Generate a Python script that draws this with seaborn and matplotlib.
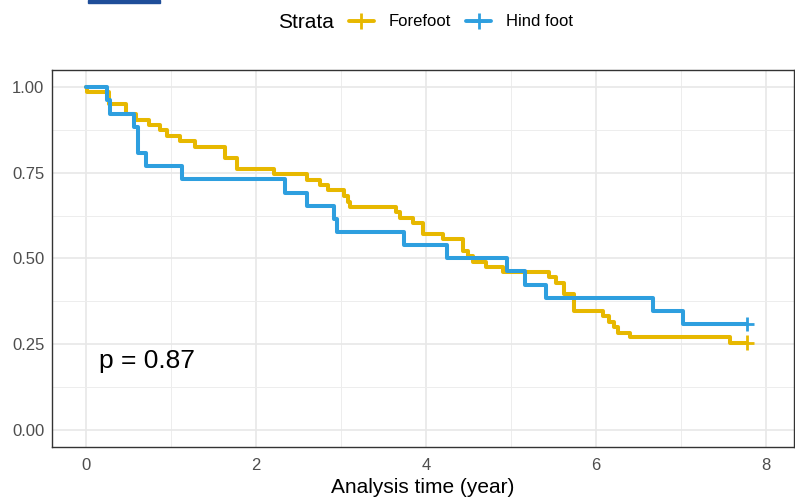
import pandas as pd
import matplotlib.pyplot as plt
import seaborn as sns
from matplotlib.lines import Line2D
from matplotlib.patches import Rectangle

# Kaplan-Meier steps (time in years, survival after the drop)
ff_time = [0.0, 0.02, 0.28, 0.48, 0.59, 0.75, 0.87, 0.96, 1.11, 1.28, 1.64, 1.78,
           2.21, 2.60, 2.76, 2.85, 3.04, 3.08, 3.11, 3.65, 3.70, 3.85, 3.97, 4.20,
           4.44, 4.50, 4.55, 4.71, 4.91, 5.45, 5.53, 5.62, 5.74, 6.09, 6.16, 6.21,
           6.26, 6.40, 7.58, 7.78]
ff_surv = [1.0, 0.985, 0.951, 0.922, 0.906, 0.890, 0.875, 0.859, 0.842, 0.826, 0.794, 0.762,
           0.748, 0.730, 0.716, 0.699, 0.682, 0.665, 0.650, 0.635, 0.619, 0.604, 0.572, 0.556,
           0.523, 0.507, 0.491, 0.476, 0.460, 0.445, 0.427, 0.395, 0.347, 0.333, 0.315, 0.299,
           0.283, 0.270, 0.254, 0.254]

hf_time = [0.0, 0.25, 0.29, 0.57, 0.62, 0.71, 1.13, 2.35, 2.60, 2.92, 2.95, 3.74,
           4.25, 4.95, 5.17, 5.41, 6.67, 7.02, 7.78]
hf_surv = [1.0, 0.962, 0.923, 0.885, 0.808, 0.769, 0.731, 0.692, 0.654, 0.615, 0.577, 0.538,
           0.500, 0.462, 0.423, 0.385, 0.346, 0.308, 0.308]

strata = ["Forefoot", "Hind foot"]
colors = ["#E7B800", "#2E9FDF"]
p_text = "p = 0.87"

df = pd.concat([
    pd.DataFrame({"time": ff_time, "surv": ff_surv, "strata": strata[0]}),
    pd.DataFrame({"time": hf_time, "surv": hf_surv, "strata": strata[1]}),
])
censor = df.groupby("strata").tail(1)

sns.set_style("white")
plt.rcParams["font.family"] = ["Liberation Sans", "DejaVu Sans"]
plt.rcParams["text.color"] = "black"

fig = plt.figure(figsize=(7.95, 4.98), dpi=100)
ax = fig.add_axes([0.065, 0.103, 0.934, 0.756])

sns.lineplot(data=df, x="time", y="surv", hue="strata", palette=colors,
             drawstyle="steps-post", linewidth=2.9, estimator=None,
             legend=False, ax=ax, zorder=3)
sns.scatterplot(data=censor, x="time", y="surv", hue="strata", palette=colors,
                marker="+", s=110, linewidth=2.0, legend=False, ax=ax, zorder=4)

ax.set_xlim(-0.4, 8.333)
ax.set_ylim(-0.05, 1.05)
ax.set_xticks([0, 2, 4, 6, 8])
ax.set_xticks([1, 3, 5, 7], minor=True)
ax.set_yticks([0, 0.25, 0.5, 0.75, 1.0])
ax.set_yticklabels(["0.00", "0.25", "0.50", "0.75", "1.00"])
ax.set_yticks([0.125, 0.375, 0.625, 0.875], minor=True)
ax.grid(which="major", color="#E8E8E8", linewidth=1.2)
ax.grid(which="minor", color="#EDEDED", linewidth=0.7)
ax.set_axisbelow(True)
ax.tick_params(which="major", length=2.8, width=0.9, color="#333333",
               labelcolor="#4D4D4D", labelsize=12, pad=2.5)
ax.tick_params(axis="x", which="major", pad=5)
ax.tick_params(which="minor", length=0)
for sp in ax.spines.values():
    sp.set_color("#333333")
    sp.set_linewidth(1.0)

ax.set_xlabel("Analysis time (year)", fontsize=15, labelpad=4, color="black")
ax.set_ylabel("")
ax.text(0.16, 0.2, p_text, fontsize=19, va="center", ha="left", color="black")

# legend on top: title at left, items in a row
fig.text(278 / 795, 1 - 22 / 498, "Strata", fontsize=15, ha="left", va="center")
handles = [Line2D([], [], color=c, linewidth=2.8, marker="+", markersize=11,
                  markeredgewidth=2.0) for c in colors]
fig.legend(handles, strata, ncol=2, loc="center", frameon=False,
           bbox_to_anchor=(461 / 795, 1 - 22 / 498), fontsize=12,
           handlelength=1.5, handletextpad=0.9, columnspacing=0.9, borderpad=0)

# small dark bar at the top-left edge of the reference crop
fig.patches.append(Rectangle((88 / 795, 1 - 3 / 498), 72 / 795, 3 / 498,
                             transform=fig.transFigure, color="#1F4E99"))

plt.savefig("out.png", dpi=100)
